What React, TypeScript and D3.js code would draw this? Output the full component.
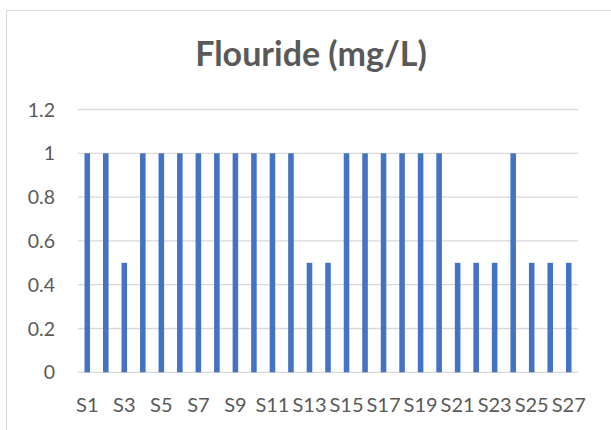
import { useEffect, useRef } from "react"
import * as d3 from "d3"

const categories = Array.from({ length: 27 }, (_, i) => `S${i + 1}`)
const values = [1, 1, 0.5, 1, 1, 1, 1, 1, 1, 1, 1, 1, 0.5, 0.5, 1, 1, 1, 1, 1, 1, 0.5, 0.5, 0.5, 1, 0.5, 0.5, 0.5]
const yTicks = [0, 0.2, 0.4, 0.6, 0.8, 1, 1.2]
const title = "Flouride (mg/L)"

export default function App() {
  const svgRef = useRef<SVGSVGElement>(null)

  useEffect(() => {
    if (!svgRef.current) return
    const svg = d3.select(svgRef.current)
    svg.selectAll("*").remove()

    const width = 611
    const height = 430
    const margin = { top: 109.5, right: 33, bottom: 57.7, left: 78 }
    const textColor = "#595959"
    const font = "Lato, 'Open Sans', sans-serif"

    // chart frame
    svg.append("rect")
      .attr("x", 6.5)
      .attr("y", 10.5)
      .attr("width", width)
      .attr("height", height)
      .attr("fill", "#fff")
      .attr("stroke", "#d9d9d9")

    const x = d3.scaleBand().domain(categories).range([margin.left, width - margin.right]).paddingInner(0.7).paddingOuter(0.35)
    const y = d3.scaleLinear().domain([0, 1.2]).range([height - margin.bottom, margin.top])

    // gridlines
    svg.append("g")
      .selectAll("line")
      .data(yTicks)
      .join("line")
      .attr("x1", margin.left)
      .attr("x2", width - margin.right)
      .attr("y1", (d) => y(d))
      .attr("y2", (d) => y(d))
      .attr("stroke", "#d9d9d9")
      .attr("stroke-width", 1.3)

    // bars
    svg.append("g")
      .selectAll("rect")
      .data(values)
      .join("rect")
      .attr("x", (_, i) => x(categories[i])!)
      .attr("width", x.bandwidth())
      .attr("y", (d) => y(d))
      .attr("height", (d) => y(0) - y(d))
      .attr("fill", "#4472c4")

    // y labels
    svg.append("g")
      .selectAll("text")
      .data(yTicks)
      .join("text")
      .attr("x", 55)
      .attr("y", (d) => y(d))
      .attr("dy", "0.36em")
      .attr("text-anchor", "end")
      .attr("fill", textColor)
      .style("font", `19.5px ${font}`)
      .text((d) => String(d))

    // x labels, every other category
    svg.append("g")
      .selectAll("text")
      .data(categories.filter((_, i) => i % 2 === 0))
      .join("text")
      .attr("x", (d) => x(d)! + x.bandwidth() / 2)
      .attr("y", 411.5)
      .attr("text-anchor", "middle")
      .attr("fill", textColor)
      .style("font", `20px ${font}`)
      .text((d) => d)

    svg.append("text")
      .attr("x", 311)
      .attr("y", 66)
      .attr("text-anchor", "middle")
      .attr("fill", textColor)
      .style("font", `bold 34px ${font}`)
      .text(title)
  }, [])

  return (
    <svg ref={svgRef} width={611} height={430} style={{ position: "absolute", left: 0, top: 0, background: "#fff" }} />
  )
}
